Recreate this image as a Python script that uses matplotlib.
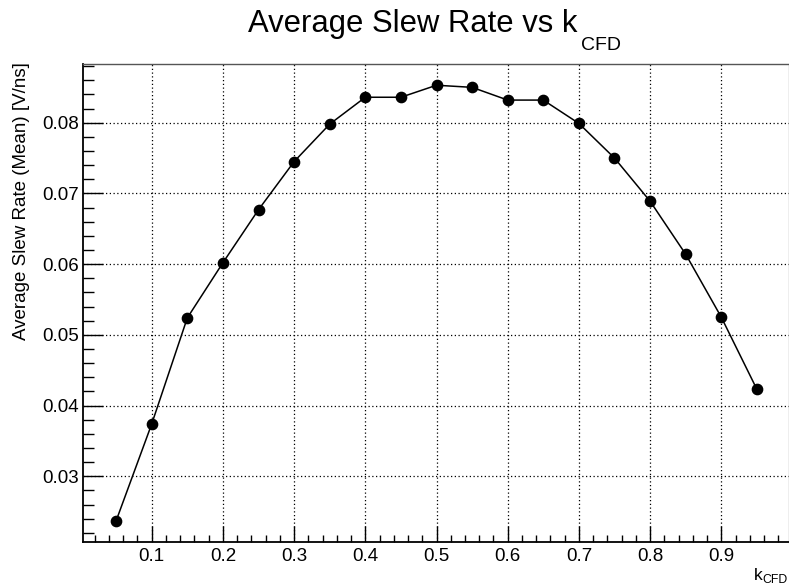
import numpy as np
import matplotlib
matplotlib.use("Agg")
import matplotlib.pyplot as plt
from matplotlib.ticker import MultipleLocator

plt.rcParams['font.family'] = ['Liberation Sans', 'DejaVu Sans']

# k_CFD scan points and the mean slew rate at each threshold fraction
k_cfd = [0.05, 0.10, 0.15, 0.20, 0.25, 0.30, 0.35, 0.40, 0.45, 0.50,
         0.55, 0.60, 0.65, 0.70, 0.75, 0.80, 0.85, 0.90, 0.95]
slew_mean = [0.0237, 0.0374, 0.0524, 0.0602, 0.0677, 0.0745, 0.0798, 0.0836, 0.0836, 0.0853,
             0.0850, 0.0832, 0.0832, 0.0799, 0.0750, 0.0689, 0.0614, 0.0525, 0.0423]

title_text = "Average Slew Rate vs k"
sub_text = "CFD"
ylabel_text = "Average Slew Rate (Mean) [V/ns]"

W, H = 789, 585
fig = plt.figure(figsize=(W / 100, H / 100), dpi=100)
ax = fig.add_axes([83.3 / W, 1 - 541.7 / H, (788.5 - 83.3) / W, (541.7 - 64.3) / H])

ax.plot(k_cfd, slew_mean, color='black', lw=1.1, marker='o', ms=7.4,
        markerfacecolor='black', markeredgecolor='black', zorder=3)

ax.set_xlim(0.0039, 0.9944)
ax.set_ylim(0.02075, 0.08826)

# ROOT-like axes: inward ticks, major + minor, dotted grid at majors
ax.xaxis.set_major_locator(MultipleLocator(0.1))
ax.xaxis.set_minor_locator(MultipleLocator(0.02))
ax.yaxis.set_major_locator(MultipleLocator(0.01))
ax.yaxis.set_minor_locator(MultipleLocator(0.002))
ax.xaxis.set_major_formatter(plt.FuncFormatter(lambda v, p: f"{v:.1f}"))
ax.yaxis.set_major_formatter(plt.FuncFormatter(lambda v, p: f"{v:.2f}"))

ax.tick_params(axis='x', which='major', direction='in', length=11.3, width=1.0,
               labelsize=13.5, pad=4.5, top=False)
ax.tick_params(axis='x', which='minor', direction='in', length=5.4, width=1.0, top=False)
ax.tick_params(axis='y', which='major', direction='in', length=14.4, width=1.0,
               labelsize=13.5, pad=3.0, right=False)
ax.tick_params(axis='y', which='minor', direction='in', length=7.9, width=1.0, right=False)

ax.grid(True, which='major', color='black', lw=0.9, linestyle=(0, (1, 2)))
ax.set_axisbelow(True)

ax.spines['left'].set_linewidth(1.3)
ax.spines['bottom'].set_linewidth(1.3)
ax.spines['top'].set_linewidth(1.0)
ax.spines['top'].set_color('#555555')
ax.spines['right'].set_linewidth(1.0)
ax.spines['right'].set_color('#aaaaaa')

fig.text(22 / W, 1 - 62 / H, ylabel_text, rotation=90, ha='center', va='top', fontsize=13.5)

# title with a lowered subscript, placed after the main text
renderer = fig.canvas.get_renderer()
t_main = fig.text(248 / W, 1 - 31.7 / H, title_text, fontsize=22.3, ha='left', va='baseline')
bb = t_main.get_window_extent(renderer)
fig.text((bb.x1 + 4) / W, 1 - 50 / H, sub_text, fontsize=14, ha='left', va='baseline')

# x-axis title at the right end
t_sub = fig.text(788 / W, 1 - 583 / H, sub_text, fontsize=8.8, ha='right', va='baseline')
bb2 = t_sub.get_window_extent(renderer)
fig.text((bb2.x0 - 0.5) / W, 1 - 580 / H, "k", fontsize=12.5, ha='right', va='baseline')

fig.savefig("out.png", dpi=100)
